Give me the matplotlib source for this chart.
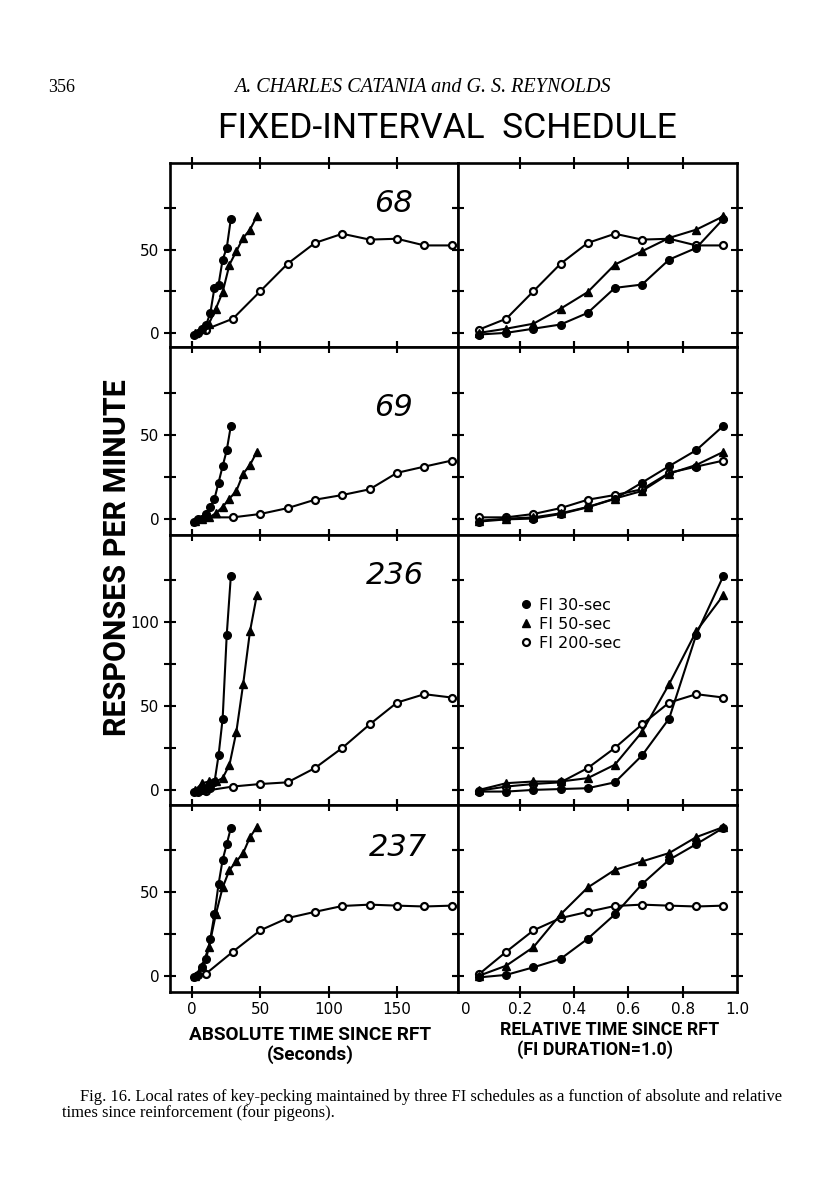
import matplotlib
matplotlib.use("Agg")
import matplotlib.pyplot as plt
from matplotlib.lines import Line2D
from matplotlib.ticker import FixedLocator, FixedFormatter

# ---------------- data ----------------
birds = ["68", "69", "236", "237"]
durations = [30, 50, 200]                      # FI 30, FI 50, FI 200 (sec)
series_names = ["FI 30-sec", "FI 50-sec", "FI 200-sec"]
rel_time = [0.05, 0.15, 0.25, 0.35, 0.45, 0.55, 0.65, 0.75, 0.85, 0.95]

fi30_68 = [-1, 0, 2.5, 5, 12, 27, 29, 44, 51, 68.5]
fi50_68 = [0, 2.5, 5.5, 14.5, 24.5, 41, 49, 57, 62, 70]
fi200_68 = [2, 8.5, 25, 41.5, 54, 59.5, 56, 56.5, 52.5, 52.5]

fi30_69 = [-1.5, -0.2, 0.3, 3, 7, 12, 21.7, 31.5, 41, 55.5]
fi50_69 = [-1, 0.2, 1, 3.4, 7.2, 12.2, 16.7, 27, 32.2, 40]
fi200_69 = [1, 1, 3, 6.5, 11.5, 14.3, 17.7, 27.5, 31.2, 34.8]

fi30_236 = [-1, -1, 0, 0.5, 1, 4.5, 20.5, 42.5, 92.5, 127.5]
fi50_236 = [0, 4, 5, 5, 7, 15, 34.5, 63, 94.5, 116]
fi200_236 = [-0.5, 2, 3.5, 4.5, 13, 25, 39, 52, 57, 55]

fi30_237 = [-1, 0.5, 5, 10, 22, 36.5, 54.5, 69, 78.3, 88]
fi50_237 = [0, 6, 17, 36.5, 52.5, 63, 68, 73, 82.5, 88.5]
fi200_237 = [1, 14.3, 27, 34.3, 38, 41.5, 42.3, 41.7, 41.2, 41.7]

data = {
    "68": [fi30_68, fi50_68, fi200_68],
    "69": [fi30_69, fi50_69, fi200_69],
    "236": [fi30_236, fi50_236, fi200_236],
    "237": [fi30_237, fi50_237, fi200_237],
}

abs_ticks = [0, 50, 100, 150]
abs_ticklabels = ["0", "50", "100", "150"]
rel_ticks = [0.2, 0.4, 0.6, 0.8]
rel_ticklabels = ["0.2", "0.4", "0.6", "0.8"]

# ---------------- styles ----------------
W, H = 816, 1200
fig = plt.figure(figsize=(W / 100, H / 100), dpi=100)
fig.patch.set_facecolor("white")

NARROW = ["Roboto", "DejaVu Sans"]
SANS = ["DejaVu Sans"]
SERIF = ["Liberation Serif", "DejaVu Serif"]

styles = [
    dict(marker="o", ms=5.5, mfc="black", mec="black", mew=1.0),
    dict(marker="^", ms=6, mfc="black", mec="black", mew=1.0),
    dict(marker="o", ms=5, mfc="white", mec="black", mew=1.6),
]
draw_order = [2, 1, 0]

rows_px = [(163, 347), (347, 535), (535, 805), (805, 992)]
ylims = [(-8.5, 102), (-9.5, 102.4), (-9, 151.8), (-9.7, 101.6)]
left_px = (170, 458)
right_px = (458, 737)
num_pos = [(0.775, 0.78), (0.775, 0.68), (0.78, 0.85), (0.79, 0.775)]


def rect(xpx, ypx):
    x0, x1 = xpx
    y0, y1 = ypx
    return [x0 / W, 1 - y1 / H, (x1 - x0) / W, (y1 - y0) / H]


def style_axes(ax):
    for s in ax.spines.values():
        s.set_linewidth(1.9)
    ax.tick_params(which="major", direction="inout", length=9, width=1.5,
                   top=True, bottom=True, left=True, right=True,
                   labelsize=11, pad=3)


for r, bird in enumerate(birds):
    ylo, yhi = ylims[r]
    last = r == len(birds) - 1
    if yhi > 120:
        yt = [0, 25, 50, 75, 100, 125]
        ytl = ["0", "", "50", "", "100", ""]
    else:
        yt = [0, 25, 50, 75]
        ytl = ["0", "", "50", ""]

    # ---- absolute time panel ----
    axL = fig.add_axes(rect(left_px, rows_px[r]))
    for i in draw_order:
        x = [t * durations[i] for t in rel_time]
        axL.plot(x, data[bird][i], color="black", lw=1.5, **styles[i],
                 zorder=3 + (2 - i))
    axL.set_xlim(-16, 194.6)
    axL.set_ylim(ylo, yhi)
    axL.set_xticks(abs_ticks)
    axL.set_yticks(yt)
    axL.set_yticklabels(ytl, family=SANS, fontsize=11)
    if last:
        axL.set_xticklabels(abs_ticklabels, family=SANS, fontsize=11)
    else:
        axL.set_xticklabels([])
    style_axes(axL)
    axL.text(num_pos[r][0], num_pos[r][1], bird, transform=axL.transAxes,
             ha="center", va="center", fontsize=22, style="italic",
             family=SANS)

    # ---- relative time panel ----
    axR = fig.add_axes(rect(right_px, rows_px[r]))
    for i in draw_order:
        axR.plot(rel_time, data[bird][i], color="black", lw=1.5, **styles[i],
                 zorder=3 + (2 - i))
    axR.set_xlim(-0.028, 1.0)
    axR.set_ylim(ylo, yhi)
    axR.set_xticks(rel_ticks)
    axR.set_yticks(yt)
    axR.set_yticklabels([])
    style_axes(axR)
    if last:
        axR.set_xticklabels(rel_ticklabels, family=SANS, fontsize=11)
        axR.xaxis.set_minor_locator(FixedLocator([0.0, 1.0]))
        axR.xaxis.set_minor_formatter(FixedFormatter(["0", "1.0"]))
        axR.tick_params(which="minor", length=0, labelsize=11, pad=7.5,
                        top=False)
        for lab in axR.get_xticklabels(minor=True):
            lab.set_family(SANS)
    else:
        axR.set_xticklabels([])

    if bird == "236":
        handles = [Line2D([], [], color="black", lw=0, **styles[i])
                   for i in range(3)]
        axR.legend(handles, series_names, loc="upper left",
                   bbox_to_anchor=(0.17, 0.82), frameon=False,
                   handlelength=0.8, handletextpad=0.4, labelspacing=0.25,
                   prop={"family": SANS, "size": 11.5})

# ---------------- page texts ----------------
fig.text(48 / W, 1 - 87 / H, "356", ha="left", va="center",
         family=SERIF, fontsize=13)
fig.text(422 / W, 1 - 87 / H, "A. CHARLES CATANIA and G. S. REYNOLDS",
         ha="center", va="center", family=SERIF, style="italic", fontsize=14.5)
fig.text(447 / W, 1 - 128 / H, "FIXED-INTERVAL  SCHEDULE", ha="center",
         va="center", family=NARROW, fontsize=25.5)
fig.text(117 / W, 1 - 558 / H, "RESPONSES PER MINUTE", ha="center",
         va="center", rotation=90, family=NARROW, weight="bold", fontsize=22)
fig.text(310 / W, 1 - 1035 / H, "ABSOLUTE TIME SINCE RFT", ha="center",
         va="center", family=NARROW, weight="bold", fontsize=13.7)
fig.text(310 / W, 1 - 1055 / H, "(Seconds)", ha="center", va="center",
         family=NARROW, weight="bold", fontsize=13.7)
fig.text(610 / W, 1 - 1030 / H, "RELATIVE TIME SINCE RFT", ha="center",
         va="center", family=NARROW, weight="bold", fontsize=12.9)
fig.text(595 / W, 1 - 1050 / H, "(FI DURATION=1.0)", ha="center",
         va="center", family=NARROW, weight="bold", fontsize=12.9)
fig.text(80 / W, 1 - 1097 / H,
         "Fig. 16. Local rates of key-pecking maintained by three FI schedules "
         "as a function of absolute and relative",
         ha="left", va="center", family=SERIF, fontsize=11.9)
fig.text(62 / W, 1 - 1113 / H,
         "times since reinforcement (four pigeons).",
         ha="left", va="center", family=SERIF, fontsize=11.9)

fig.savefig("out.png", dpi=100, facecolor="white")
